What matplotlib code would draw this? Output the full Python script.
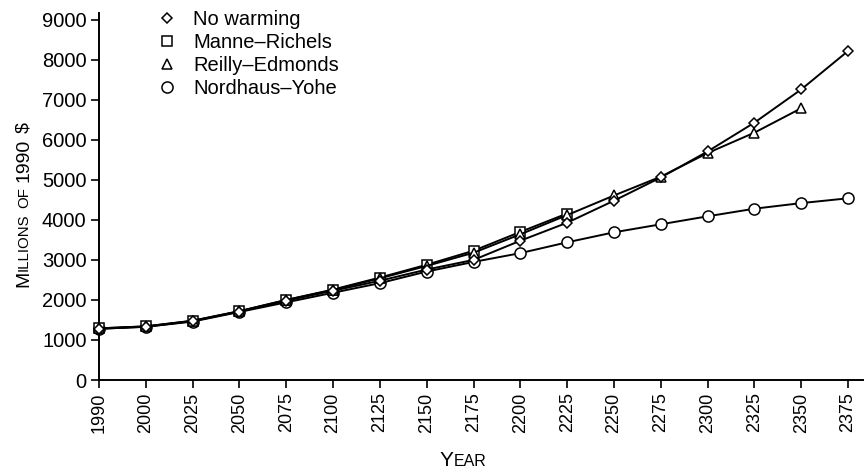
import numpy as np
import matplotlib
matplotlib.use("Agg")
import matplotlib.pyplot as plt
from matplotlib.lines import Line2D
from matplotlib.transforms import IdentityTransform

plt.rcParams["font.family"] = ["Liberation Sans", "DejaVu Sans"]

# ------------------------------------------------------------
# data (millions of 1990 $)
# ------------------------------------------------------------
years = ["1990", "2000", "2025", "2050", "2075", "2100", "2125", "2150", "2175",
         "2200", "2225", "2250", "2275", "2300", "2325", "2350", "2375"]

no_warming = [1280, 1330, 1470, 1710, 1980, 2230, 2480, 2760, 3000,
              3480, 3930, 4480, 5060, 5710, 6430, 7260, 8220]
manne_richels = [1290, 1340, 1480, 1720, 2000, 2260, 2560, 2880, 3230,
                 3700, 4160]
reilly_edmonds = [1290, 1340, 1480, 1720, 2000, 2250, 2540, 2850, 3180,
                  3640, 4120, 4610, 5080, 5670, 6180, 6790]
nordhaus_yohe = [1280, 1330, 1460, 1700, 1940, 2180, 2420, 2710, 2950,
                 3170, 3440, 3690, 3890, 4090, 4280, 4420, 4540]

y_ticks = np.arange(0, 9001, 1000)

X_TICK_SIZE = 13
Y_TICK_SIZE = 14.5
LEGEND_SIZE = 14.5
BIG_SIZE = 14
SMALL_SIZE = 10.8

fig = plt.figure(figsize=(8.67, 4.72), dpi=100)
ax = fig.add_axes([99 / 867, 92 / 472, 764 / 867, 367 / 472])

series = [
    (nordhaus_yohe, "o", 8.0, "Nordhaus\u2013Yohe"),
    (manne_richels, "s", 7.4, "Manne\u2013Richels"),
    (reilly_edmonds, "^", 7.8, "Reilly\u2013Edmonds"),
    (no_warming, "D", 5.3, "No warming"),
]

for i, (vals, mk, ms, _) in enumerate(series):
    ax.plot(np.arange(len(vals)), vals, color="black", linewidth=1.4,
            marker=mk, markersize=ms, markerfacecolor="white",
            markeredgecolor="black", markeredgewidth=1.1, zorder=2 + i,
            clip_on=False)

ax.set_xlim(0, 16.32)
ax.set_ylim(0, 9170)
ax.set_xticks(np.arange(len(years)))
ax.set_xticklabels(years, rotation=90, fontsize=X_TICK_SIZE)
ax.set_yticks(y_ticks)
ax.set_yticklabels([str(v) for v in y_ticks], fontsize=Y_TICK_SIZE)
ax.tick_params(direction="out", length=6, width=1.2, color="black", pad=3)

for side in ["top", "right"]:
    ax.spines[side].set_visible(False)
for side in ["left", "bottom"]:
    ax.spines[side].set_linewidth(1.4)

# legend: markers only, no frame
legend_order = [series[3], series[1], series[2], series[0]]
handles = [Line2D([], [], linestyle="none", marker=mk, markersize=ms,
                  markerfacecolor="white", markeredgecolor="black",
                  markeredgewidth=1.1) for (_, mk, ms, _) in legend_order]
labels = [lab for (_, _, _, lab) in legend_order]
ax.legend(handles, labels, loc="upper left", bbox_to_anchor=(147 / 867, 1 - 0 / 472),
          bbox_transform=fig.transFigure, frameon=False, fontsize=LEGEND_SIZE,
          handlelength=1.0, handletextpad=0.8, labelspacing=0.2, borderpad=0)


# small-caps style axis labels built from pieces
fig.canvas.draw()
renderer = fig.canvas.get_renderer()


def text_width(s, size):
    t = fig.text(0, 0, s, fontsize=size)
    w = t.get_window_extent(renderer).width
    t.remove()
    return w


def small_caps(x, y, parts, rotation=0):
    pos = 0.0
    gap = text_width("a a", BIG_SIZE) - text_width("aa", BIG_SIZE)
    for s, size in parts:
        if s == " ":
            pos += gap
            continue
        if rotation == 90:
            px, py = x, y + pos
        else:
            px, py = x + pos, y
        fig.text(px, py, s, fontsize=size, rotation=rotation, rotation_mode="anchor",
                 ha="left", va="baseline", transform=IdentityTransform())
        pos += text_width(s, size)


small_caps(28, 185, [("M", BIG_SIZE), ("ILLIONS", SMALL_SIZE), (" ", 0),
                     ("OF", SMALL_SIZE), (" ", 0), ("1990", BIG_SIZE), (" ", 0),
                     ("$", BIG_SIZE)], rotation=90)
small_caps(440, 6, [("Y", 15), ("EAR", 11.5)])

fig.savefig("out.png", dpi=100)
